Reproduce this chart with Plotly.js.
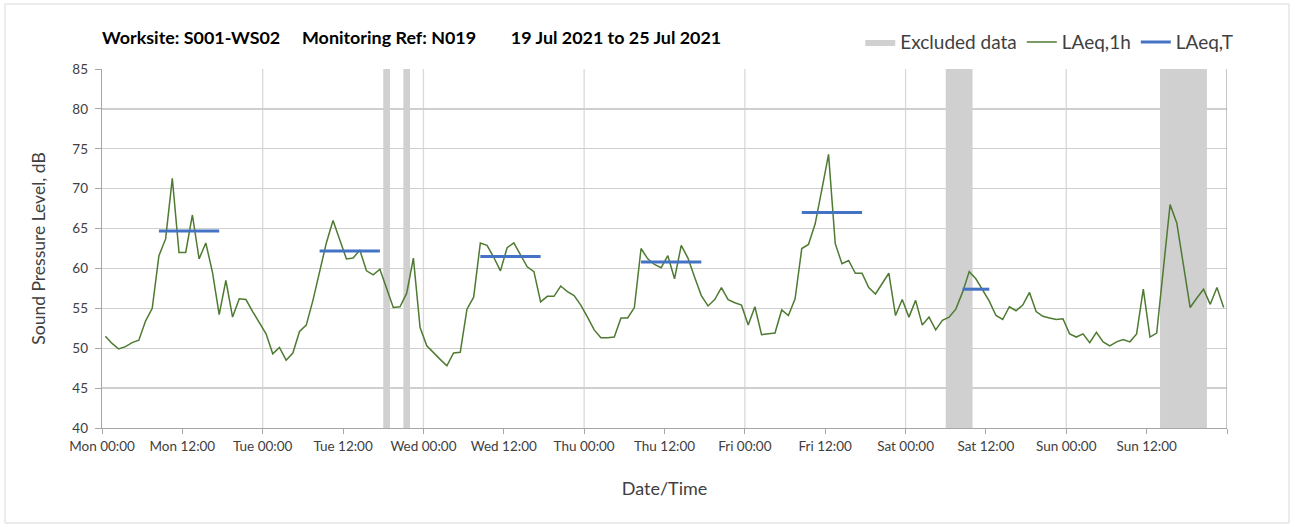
<!DOCTYPE html>
<html><head><meta charset="utf-8">
<script src="https://cdn.plot.ly/plotly-3.0.1.min.js"></script>
<style>html,body{margin:0;padding:0;background:#fff;} #chart{width:1301px;height:527px;}</style>
</head><body><div id="chart"></div>
<script>
// ---- data ----
const seriesStart = '2021-07-19 00:30';   // first hourly value (hour-centred)
const laeq1h = [
  // Mon
  51.5, 50.6, 49.9, 50.2, 50.7, 51.0, 53.4, 55.0, 61.6, 63.7, 71.3, 62.0, 62.0, 66.7, 61.2, 63.2, 59.5, 54.2, 58.5, 53.9, 56.2, 56.1, 54.6, 53.2,
  // Tue
  51.8, 49.3, 50.1, 48.5, 49.4, 52.1, 52.9, 56.0, 59.6, 63.2, 66.0, 63.6, 61.2, 61.3, 62.3, 59.7, 59.2, 59.9, 57.5, 55.1, 55.2, 56.9, 61.3, 52.6,
  // Wed
  50.3, 49.4, 48.6, 47.8, 49.4, 49.5, 54.9, 56.4, 63.2, 62.9, 61.4, 59.7, 62.6, 63.2, 61.6, 60.2, 59.6, 55.8, 56.5, 56.5, 57.8, 57.1, 56.6, 55.4,
  // Thu
  53.9, 52.3, 51.3, 51.3, 51.4, 53.8, 53.8, 55.1, 62.5, 61.2, 60.5, 60.1, 61.6, 58.7, 62.9, 61.3, 58.9, 56.6, 55.3, 56.1, 57.6, 56.1, 55.7, 55.4,
  // Fri
  52.9, 55.2, 51.7, 51.8, 51.9, 54.8, 54.1, 56.2, 62.5, 63.0, 65.6, 69.9, 74.3, 63.1, 60.6, 61.0, 59.4, 59.4, 57.6, 56.8, 58.1, 59.4, 54.1, 56.1,
  // Sat
  53.9, 56.0, 52.9, 53.9, 52.3, 53.5, 53.9, 54.9, 57.0, 59.6, 58.7, 57.3, 55.9, 54.1, 53.6, 55.2, 54.7, 55.4, 57.0, 54.6, 54.0, 53.8, 53.6, 53.7,
  // Sun
  51.8, 51.4, 51.8, 50.7, 52.0, 50.8, 50.3, 50.8, 51.1, 50.8, 51.8, 57.4, 51.4, 51.9, 60.0, 68.0, 65.7, 60.3, 55.1, 56.3, 57.4, 55.5, 57.6, 55.1
];

const excludedStart = ['2021-07-20 18:00', '2021-07-20 21:00', '2021-07-24 06:00', '2021-07-25 14:00'];
const excludedEnd   = ['2021-07-20 19:00', '2021-07-20 22:00', '2021-07-24 10:00', '2021-07-25 21:00'];

const periodStart = ['2021-07-19 08:30', '2021-07-20 08:30', '2021-07-21 08:30', '2021-07-22 08:30', '2021-07-23 08:30', '2021-07-24 08:30'];
const periodEnd   = ['2021-07-19 17:30', '2021-07-20 17:30', '2021-07-21 17:30', '2021-07-22 17:30', '2021-07-23 17:30', '2021-07-24 12:30'];
const laeqT       = [64.7, 62.2, 61.5, 60.8, 67.0, 57.4];

const tickVals = ['2021-07-19 00:00','2021-07-19 12:00','2021-07-20 00:00','2021-07-20 12:00','2021-07-21 00:00','2021-07-21 12:00',
                  '2021-07-22 00:00','2021-07-22 12:00','2021-07-23 00:00','2021-07-23 12:00','2021-07-24 00:00','2021-07-24 12:00',
                  '2021-07-25 00:00','2021-07-25 12:00'];
const tickText = ['Mon 00:00','Mon 12:00','Tue 00:00','Tue 12:00','Wed 00:00','Wed 12:00','Thu 00:00','Thu 12:00',
                  'Fri 00:00','Fri 12:00','Sat 00:00','Sat 12:00','Sun 00:00','Sun 12:00'];
const dayLines = ['2021-07-20 00:00','2021-07-21 00:00','2021-07-22 00:00','2021-07-23 00:00','2021-07-24 00:00','2021-07-25 00:00'];
const xRange = ['2021-07-19 00:00', '2021-07-26 00:00'];
const yRange = [40, 85];

// ---- helpers ----
const HOUR = 3600000;
const toMs = s => Date.parse(s.replace(' ', 'T') + ':00Z');
const fmt = ms => new Date(ms).toISOString().slice(0, 19).replace('T', ' ');

const x1h = laeq1h.map((_, i) => fmt(toMs(seriesStart) + i * HOUR));

// excluded periods as filled polygons (one per period, separated by gaps)
const ex = [], ey = [];
excludedStart.forEach((s, i) => {
  const e = excludedEnd[i];
  ex.push(s, e, e, s, s, null);
  ey.push(yRange[0], yRange[0], yRange[1], yRange[1], yRange[0], null);
});

const tx = [], ty = [];
periodStart.forEach((s, i) => { tx.push(s, periodEnd[i], null); ty.push(laeqT[i], laeqT[i], null); });

const FONT = 'Lato, "Open Sans", sans-serif';

const traces = [
  { type: 'scatter', mode: 'lines', name: 'Excluded data', x: ex, y: ey, fill: 'toself',
    fillcolor: '#d0d0d0', line: { width: 0, color: '#d0d0d0' }, hoverinfo: 'skip' },
  { type: 'scatter', mode: 'lines', name: 'LAeq,1h', x: x1h, y: laeq1h,
    line: { color: '#4e7a31', width: 1.5 } },
  { type: 'scatter', mode: 'lines', name: 'LAeq,T', x: tx, y: ty, connectgaps: false,
    line: { color: '#4472c4', width: 3 } }
];

const shapes = dayLines.map(d => ({ type: 'line', xref: 'x', yref: 'paper', x0: d, x1: d, y0: 0, y1: 1,
  line: { color: '#d9d9d9', width: 1.3 }, layer: 'below' }));
shapes.push({ type: 'line', xref: 'x', yref: 'paper', x0: xRange[1], x1: xRange[1], y0: 0, y1: 1,
  line: { color: '#a6a6a6', width: 1.3 }, layer: 'above' });
shapes.push({ type: 'rect', xref: 'paper', yref: 'paper', x0: -0.0862, x1: 1.0551, y0: -0.2646, y1: 1.181,
  line: { color: '#d9d9d9', width: 1 }, fillcolor: 'rgba(0,0,0,0)', layer: 'below' });

const SP = n => '\u00a0'.repeat(n);

const layout = {
  width: 1301, height: 527,
  margin: { l: 102, r: 74, t: 69, b: 99 },
  paper_bgcolor: '#ffffff', plot_bgcolor: '#ffffff',
  font: { family: FONT, color: '#404040', size: 13 },
  showlegend: true,
  title: { text: '<b>Worksite: S001-WS02' + SP(5) + 'Monitoring Ref: N019' + SP(8) + '19 Jul 2021 to 25 Jul 2021</b>',
    font: { family: FONT, size: 17.9, color: '#000000' },
    xref: 'container', yref: 'container', x: 102 / 1301, xanchor: 'left', y: 1 - 38 / 527, yanchor: 'middle' },
  legend: { orientation: 'h', x: 1.010, xanchor: 'right', y: 1.075, yanchor: 'middle',
    font: { family: FONT, size: 19, color: '#404040' }, bgcolor: 'rgba(0,0,0,0)', traceorder: 'normal', itemwidth: 30 },
  xaxis: {
    type: 'date', range: xRange, tickmode: 'array', tickvals: tickVals, ticktext: tickText,
    showgrid: false, zeroline: false, showline: true, linecolor: '#a6a6a6', linewidth: 1.3,
    ticks: 'outside', ticklen: 5, tickcolor: '#a6a6a6', tickwidth: 1, ticklabelstandoff: 0,
    minor: { dtick: 12 * HOUR, tick0: xRange[0], ticks: 'outside', ticklen: 5, tickcolor: '#a6a6a6', showgrid: false },
    tickfont: { family: FONT, size: 13.5, color: '#404040' },
    title: { text: 'Date/Time', font: { family: FONT, size: 18, color: '#404040' }, standoff: 30 }
  },
  yaxis: {
    range: yRange, dtick: 5, tick0: 40, showgrid: true, gridcolor: '#cfcfcf', gridwidth: 1.3,
    zeroline: false, showline: true, linecolor: '#a6a6a6', linewidth: 1.3,
    ticks: 'outside', ticklen: 6, tickcolor: '#a6a6a6', ticklabelstandoff: 4,
    tickfont: { family: FONT, size: 13.5, color: '#404040' },
    title: { text: 'Sound Pressure Level, dB', font: { family: FONT, size: 17.5, color: '#404040' }, standoff: 22 }
  },
  shapes: shapes
};

Plotly.newPlot('chart', traces, layout, { displayModeBar: false, staticPlot: true });
</script></body></html>
